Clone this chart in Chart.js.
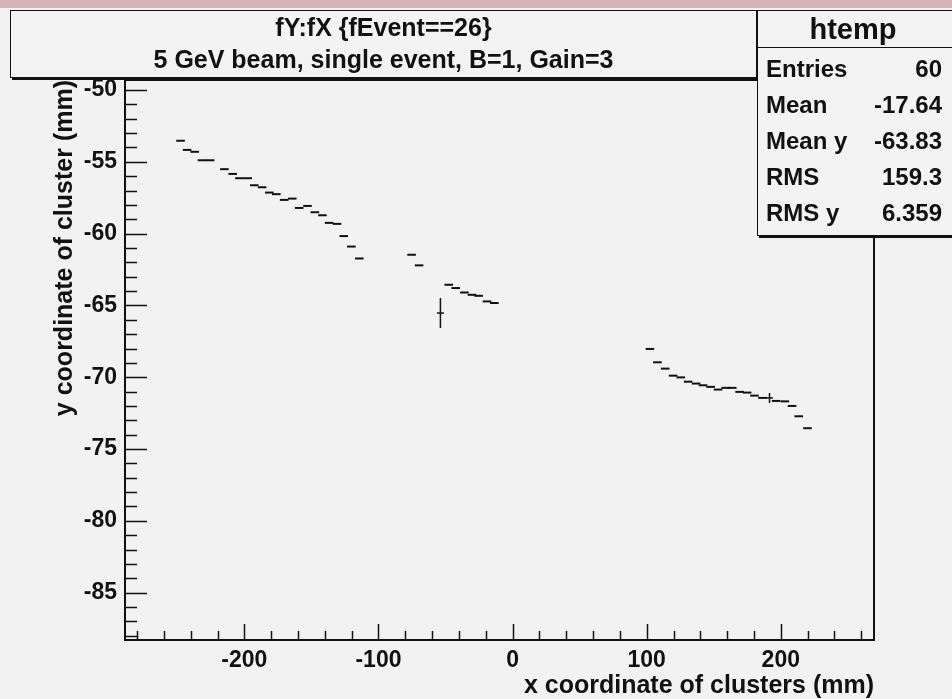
<!DOCTYPE html>
<html>
<head>
<meta charset="utf-8">
<script src="https://cdn.jsdelivr.net/npm/chart.js@4.4.1/dist/chart.umd.min.js"></script>
<style>
    html, body { margin: 0; padding: 0; background: #f2f2f2; }
    #wrap { position: relative; width: 952px; height: 699px; overflow: hidden; background: #f2f2f2; }
    #band { position: absolute; left: 0; top: 0; width: 952px; height: 8px; background: #d2b4b8; }
    #plot { position: absolute; left: 0; top: 0; }
    .box {
        position: absolute; background: #f3f3f3; border: 1.5px solid #111;
        box-shadow: 2px 2px 0 #111; font-family: "Liberation Sans", Arial, sans-serif;
        font-weight: bold; color: #111;
    }
    #title { left: 10px; top: 10px; width: 745px; height: 66px; text-align: center; font-size: 25px; }
    #title div { line-height: 32px; }
    #stats { left: 757px; top: 10px; width: 200px; height: 224px; font-size: 24px; }
    #stats .head { height: 36px; line-height: 36px; text-align: center; font-size: 29px; border-bottom: 1.5px solid #111; padding-right: 10px; margin-bottom: 3px; }
    #stats .row { height: 36px; line-height: 36px; padding: 0 16px 0 8px; }
    #stats .row span:last-child { float: right; }
</style>
</head>
<body>
<div id="wrap">
    <div id="band"></div>
    <canvas id="plot" width="952" height="699"></canvas>
    <div class="box" id="title">
        <div>fY:fX {fEvent==26}</div>
        <div>5 GeV beam, single event, B=1, Gain=3</div>
    </div>
    <div class="box" id="stats">
        <div class="head">htemp</div>
        <div class="row"><span>Entries</span><span>60</span></div>
        <div class="row"><span>Mean</span><span>-17.64</span></div>
        <div class="row"><span>Mean y</span><span>-63.83</span></div>
        <div class="row"><span>RMS</span><span>159.3</span></div>
        <div class="row"><span>RMS y</span><span>6.359</span></div>
    </div>
</div>
<script>
// cluster positions for event 26 (mm)
const clusterX = [
    -247.6, -242.7, -237.0, -231.6, -225.5, -214.9, -208.7, -203.7, -197.5, -192.6,
    -186.8, -181.4, -176.2, -170.3, -164.3, -159.1, -152.9, -147.4, -141.8, -136.8,
    -130.9, -125.9, -120.2, -114.3,
    -75.3, -69.7, -47.6, -42.4, -35.9, -30.3, -25.3, -19.1, -13.6,
    102.4, 108.0, 113.8, 119.7, 125.4, 130.9, 136.8, 142.0, 147.7, 153.2,
    158.9, 163.8, 169.3, 174.9, 180.4, 186.4, 196.5, 203.0, 208.4, 213.4, 219.9
];
const clusterY = [
    -53.53, -54.17, -54.30, -54.89, -54.89, -55.51, -55.84, -56.14, -56.14, -56.63,
    -56.77, -57.14, -57.25, -57.65, -57.56, -58.21, -58.07, -58.51, -58.72, -59.25,
    -59.32, -60.17, -60.90, -61.73,
    -61.47, -62.21, -63.56, -63.79, -64.10, -64.26, -64.33, -64.72, -64.83,
    -68.03, -68.96, -69.40, -69.89, -70.01, -70.31, -70.44, -70.56, -70.67, -70.86,
    -70.74, -70.74, -71.02, -71.07, -71.28, -71.44, -71.65, -71.68, -72.00, -72.72, -73.55
];
// clusters drawn with a vertical spread
const spreadX = [-53.8, 191.6];
const spreadY = [-65.53, -71.44];
const spreadErr = [1.04, 0.35];

const xTicks = [-200, -100, 0, 100, 200];
const yTicks = [-50, -55, -60, -65, -70, -75, -80, -85];
const xRange = [-289, 269.5];
const yRange = [-88.3, -49.3];

const FONT = '"Liberation Sans", Arial, sans-serif';

// frame, inside ticks, error bars and axis titles
const rootFrame = {
    id: 'rootFrame',
    afterDatasetsDraw(chart) {
        const ctx = chart.ctx;
        const a = chart.chartArea;
        const xs = chart.scales.x;
        const ys = chart.scales.y;
        ctx.save();
        ctx.strokeStyle = '#111';
        ctx.lineWidth = 1.5;

        // vertical spread bars
        ctx.beginPath();
        spreadX.forEach((x, i) => {
            const px = xs.getPixelForValue(x);
            ctx.moveTo(px, ys.getPixelForValue(spreadY[i] + spreadErr[i]));
            ctx.lineTo(px, ys.getPixelForValue(spreadY[i] - spreadErr[i]));
        });
        ctx.stroke();

        ctx.lineWidth = 2;
        ctx.strokeRect(a.left, a.top, a.right - a.left, a.bottom - a.top);

        ctx.lineWidth = 1.5;
        ctx.beginPath();
        for (let v = Math.ceil(yRange[0]); v <= Math.floor(yRange[1]); v++) {
            const py = Math.round(ys.getPixelForValue(v)) + 0.5;
            const len = v % 5 === 0 ? 22 : 12;
            ctx.moveTo(a.left, py);
            ctx.lineTo(a.left + len, py);
        }
        for (let v = -280; v <= 260; v += 20) {
            const px = Math.round(xs.getPixelForValue(v)) + 0.5;
            const len = v % 100 === 0 ? 16 : 9;
            ctx.moveTo(px, a.bottom);
            ctx.lineTo(px, a.bottom - len);
        }
        ctx.stroke();

        ctx.fillStyle = '#111';
        ctx.font = 'bold 25px ' + FONT;
        ctx.textAlign = 'right';
        ctx.textBaseline = 'alphabetic';
        ctx.fillText('x coordinate of clusters (mm)', a.right, 693);

        ctx.translate(72, 80);
        ctx.rotate(-Math.PI / 2);
        ctx.textAlign = 'right';
        ctx.fillText('y coordinate of cluster (mm)', 0, 0);
        ctx.restore();
    }
};

new Chart(document.getElementById('plot'), {
    type: 'scatter',
    data: {
        datasets: [
            {
                data: clusterX.map((x, i) => ({ x: x, y: clusterY[i] })),
                pointStyle: 'line',
                pointRadius: 4.3,
                borderColor: '#111',
                borderWidth: 2
            },
            {
                data: spreadX.map((x, i) => ({ x: x, y: spreadY[i] })),
                pointStyle: 'line',
                pointRadius: 3.5,
                borderColor: '#111',
                borderWidth: 1.5
            }
        ]
    },
    options: {
        responsive: false,
        animation: false,
        events: [],
        layout: { padding: { left: 0, right: 78, top: 80, bottom: 0 } },
        plugins: {
            legend: { display: false },
            tooltip: { enabled: false }
        },
        scales: {
            x: {
                type: 'linear',
                min: xRange[0],
                max: xRange[1],
                grid: { display: false, drawTicks: false },
                border: { display: false },
                afterBuildTicks(scale) { scale.ticks = xTicks.map(v => ({ value: v })); },
                afterFit(scale) { scale.height = 59; },
                ticks: {
                    color: '#111',
                    padding: 7,
                    maxRotation: 0,
                    font: { family: FONT, size: 23, weight: 'bold' }
                }
            },
            y: {
                type: 'linear',
                min: yRange[0],
                max: yRange[1],
                grid: { display: false, drawTicks: false },
                border: { display: false },
                afterBuildTicks(scale) { scale.ticks = yTicks.map(v => ({ value: v })); },
                afterFit(scale) { scale.width = 125; },
                ticks: {
                    color: '#111',
                    padding: 8,
                    font: { family: FONT, size: 23, weight: 'bold' }
                }
            }
        }
    },
    plugins: [rootFrame]
});
</script>
</body>
</html>
